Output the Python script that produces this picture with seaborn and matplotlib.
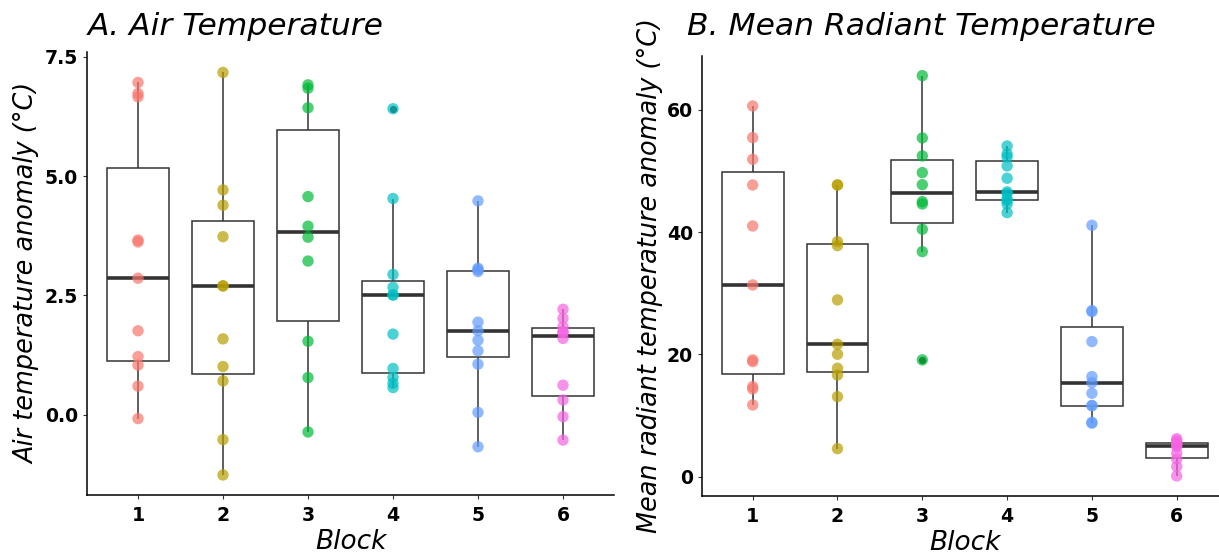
import matplotlib
matplotlib.use("Agg")
import matplotlib.pyplot as plt
import numpy as np
import pandas as pd
import seaborn as sns

# Blocks and their colours
blocks = ["1", "2", "3", "4", "5", "6"]
block_colors = ["#F8766D", "#B79F00", "#00BA38", "#00BFC4", "#619CFF", "#F564E3"]

# Air temperature anomaly (°C) per block
air_block1 = [6.96, 6.73, 6.66, 3.66, 3.62, 2.86, 1.76, 1.22, 1.04, 0.60, -0.08]
air_block2 = [7.17, 4.71, 4.39, 3.73, 2.70, 2.70, 1.59, 1.01, 0.71, -0.52, -1.26]
air_block3 = [6.91, 6.84, 6.43, 4.57, 3.95, 3.72, 3.22, 1.54, 0.78, -0.36]
air_block4 = [6.41, 4.53, 2.94, 2.67, 2.51, 2.51, 1.69, 0.97, 0.78, 0.66, 0.57]
air_block5 = [4.48, 3.07, 3.04, 3.00, 1.94, 1.76, 1.56, 1.34, 1.06, 0.05, -0.67]
air_block6 = [2.21, 2.02, 1.84, 1.74, 1.72, 1.60, 0.62, 0.31, -0.04, -0.53]

# Mean radiant temperature anomaly (°C) per block
mrt_block1 = [60.66, 55.48, 51.93, 47.73, 41.02, 31.37, 19.10, 18.82, 14.73, 14.35, 11.73]
mrt_block2 = [47.73, 47.73, 38.46, 37.81, 28.92, 21.66, 20.03, 17.74, 16.64, 13.09, 4.58]
mrt_block3 = [65.62, 55.42, 52.48, 49.75, 47.78, 45.00, 44.62, 40.48, 36.82, 19.10]
mrt_block4 = [54.11, 52.81, 52.30, 50.85, 48.83, 46.60, 46.30, 45.40, 45.20, 44.63, 43.20]
mrt_block5 = [41.13, 27.17, 27.00, 22.10, 16.37, 15.39, 13.64, 11.65, 11.60, 8.90, 8.74]
mrt_block6 = [6.20, 5.90, 5.50, 5.35, 5.20, 4.90, 3.82, 2.90, 1.64, 0.11]

air_series = [air_block1, air_block2, air_block3, air_block4, air_block5, air_block6]
mrt_series = [mrt_block1, mrt_block2, mrt_block3, mrt_block4, mrt_block5, mrt_block6]


def long_frame(series):
    rows = [(b, v) for b, vals in zip(blocks, series) for v in vals]
    return pd.DataFrame(rows, columns=["Block", "value"])


air_df = long_frame(air_series)
mrt_df = long_frame(mrt_series)

sns.set_theme(style="ticks")
plt.rcParams["font.family"] = ["DejaVu Sans"]
plt.rcParams["text.color"] = "black"
plt.rcParams["axes.labelcolor"] = "black"

W, H = 1219, 559
fig = plt.figure(figsize=(W / 100, H / 100), dpi=100)
fig.patch.set_facecolor("white")


def px_axes(left, top, right, bottom):
    return fig.add_axes([left / W, (H - bottom) / H, (right - left) / W, (bottom - top) / H])


ax_a = px_axes(87, 52.4, 614, 495)
ax_b = px_axes(701.8, 55.6, 1227.6, 496)

line_col = "#333333"


def draw_panel(ax, df, ylim, yticks, yticklabels, ylabel):
    sns.boxplot(
        data=df, x="Block", y="value", order=blocks, ax=ax,
        color="white", linecolor=line_col, linewidth=1.1, width=0.73,
        showcaps=False, whis=1.5, fliersize=4.2,
        flierprops=dict(marker="o", markerfacecolor=line_col,
                        markeredgecolor=line_col),
        medianprops=dict(linewidth=2.6, color=line_col),
    )
    sns.stripplot(
        data=df, x="Block", y="value", hue="Block", order=blocks,
        hue_order=blocks, palette=block_colors, jitter=False, size=8.2,
        alpha=0.7, linewidth=0, legend=False, ax=ax, zorder=3,
    )
    ax.set_xlim(-0.6, 5.6)
    ax.set_ylim(*ylim)
    ax.set_yticks(yticks)
    ax.set_yticklabels(yticklabels)
    for s in ["top", "right"]:
        ax.spines[s].set_visible(False)
    for s in ["left", "bottom"]:
        ax.spines[s].set_color("black")
        ax.spines[s].set_linewidth(1.1)
    ax.tick_params(axis="both", length=2.8, width=0.8, color=line_col,
                   labelsize=13.6, labelcolor="black")
    ax.tick_params(axis="y", pad=3.6)
    ax.tick_params(axis="x", pad=5)
    for lab in ax.get_xticklabels() + ax.get_yticklabels():
        lab.set_fontweight("bold")
    ax.set_xlabel("Block", fontsize=19, fontstyle="italic", labelpad=3,
                  color="black")
    ax.set_ylabel(ylabel, fontsize=18.4, fontstyle="italic", labelpad=3,
                  color="black")
    ax.grid(False)
    ax.set_facecolor("white")


draw_panel(ax_a, air_df, (-1.68, 7.59), [0, 2.5, 5, 7.5],
           ["0.0", "2.5", "5.0", "7.5"], "Air temperature anomaly (°C)")
draw_panel(ax_b, mrt_df, (-3.17, 68.9), [0, 20, 40, 60],
           ["0", "20", "40", "60"], "Mean radiant temperature anomaly (°C)")

fig.text(88 / W, 1 - 35 / H, "A. Air Temperature", fontsize=22.6,
         fontstyle="italic", ha="left", va="baseline", color="black")
fig.text(687 / W, 1 - 35 / H, "B. Mean Radiant Temperature", fontsize=22.6,
         fontstyle="italic", ha="left", va="baseline", color="black")

fig.savefig("out.png", dpi=100, facecolor="white")
